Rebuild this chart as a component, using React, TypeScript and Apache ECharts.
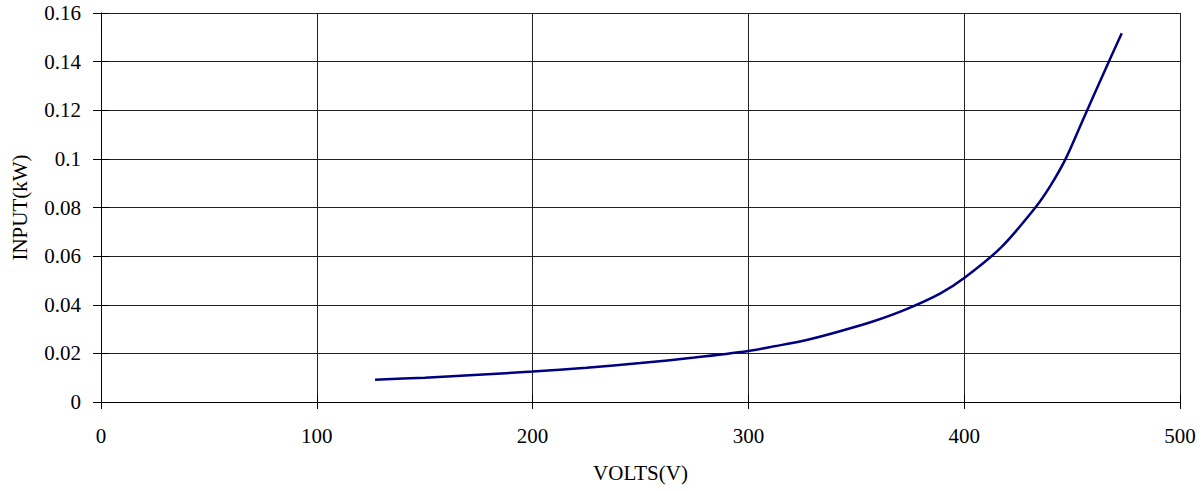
import React, { useEffect, useRef } from "react";
import * as echarts from "echarts";

const volts: number[] = [127, 150, 175, 200, 225, 250, 275, 300, 312, 327, 342, 358, 373, 389, 400, 417, 433, 440, 447, 455, 464, 473];
const inputKW: number[] = [0.0092, 0.0100, 0.0112, 0.0125, 0.0141, 0.0160, 0.0183, 0.0210, 0.0229, 0.0255, 0.0290, 0.0332, 0.0381, 0.0447, 0.0510, 0.0635, 0.0800, 0.0890, 0.1000, 0.1160, 0.1340, 0.1517];

const xMin = 0;
const xMax = 500;
const xStep = 100;
const yMin = 0;
const yMax = 0.16;
const yStep = 0.02;
const xTitle = "VOLTS(V)";
const yTitle = "INPUT(kW)";

const FONT = "'Liberation Serif', 'DejaVu Serif', serif";

export default function App() {
  const ref = useRef<HTMLDivElement>(null);
  useEffect(() => {
    if (!ref.current) return;
    const chart = echarts.init(ref.current, undefined, { renderer: "svg" });
    const data = volts.map((v, i) => [v, inputKW[i]]);
    const labelStyle = { color: "#000", fontFamily: FONT, fontSize: 21 };
    chart.setOption({
      animation: false,
      backgroundColor: "#fff",
      grid: { left: 101, right: 24, top: 13, bottom: 89, containLabel: false, outerBoundsMode: "none" },
      xAxis: [
        {
          type: "value",
          min: xMin,
          max: xMax,
          interval: xStep,
          name: xTitle,
          nameLocation: "middle",
          nameGap: 60,
          nameTextStyle: { ...labelStyle },
          axisLine: { show: true, onZero: false, lineStyle: { color: "#000", width: 1 } },
          axisTick: { show: true, inside: false, length: 7, lineStyle: { color: "#000" } },
          axisLabel: { ...labelStyle, margin: 23 },
          splitLine: { show: true, lineStyle: { color: "#222", width: 1 } },
        },
        {
          type: "value",
          position: "bottom",
          min: xMin,
          max: xMax,
          interval: xStep,
          axisLine: { show: false },
          axisTick: { show: true, inside: true, length: 7, lineStyle: { color: "#000" } },
          axisLabel: { show: false },
          splitLine: { show: false },
        },
      ],
      yAxis: [
        {
          type: "value",
          min: yMin,
          max: yMax,
          interval: yStep,
          name: yTitle,
          nameLocation: "middle",
          nameGap: 71,
          nameRotate: 90,
          nameTextStyle: { ...labelStyle },
          axisLine: { show: true, onZero: false, lineStyle: { color: "#000", width: 1 } },
          axisTick: { show: true, inside: false, length: 8, lineStyle: { color: "#000" } },
          axisLabel: { ...labelStyle, margin: 20 },
          splitLine: { show: true, lineStyle: { color: "#222", width: 1 } },
        },
        {
          type: "value",
          position: "left",
          min: yMin,
          max: yMax,
          interval: yStep,
          axisLine: { show: false },
          axisTick: { show: true, inside: true, length: 8, lineStyle: { color: "#000" } },
          axisLabel: { show: false },
          splitLine: { show: false },
        },
      ],
      series: [
        {
          type: "line",
          xAxisIndex: 0,
          yAxisIndex: 0,
          data,
          smooth: 0.3,
          showSymbol: false,
          symbol: "none",
          lineStyle: { color: "#000080", width: 2.5 },
        },
      ],
    });
    return () => chart.dispose();
  }, []);
  return (
    <div
      ref={ref}
      style={{ position: "fixed", left: 0, top: 0, width: 1204, height: 491, background: "#fff" }}
    />
  );
}
